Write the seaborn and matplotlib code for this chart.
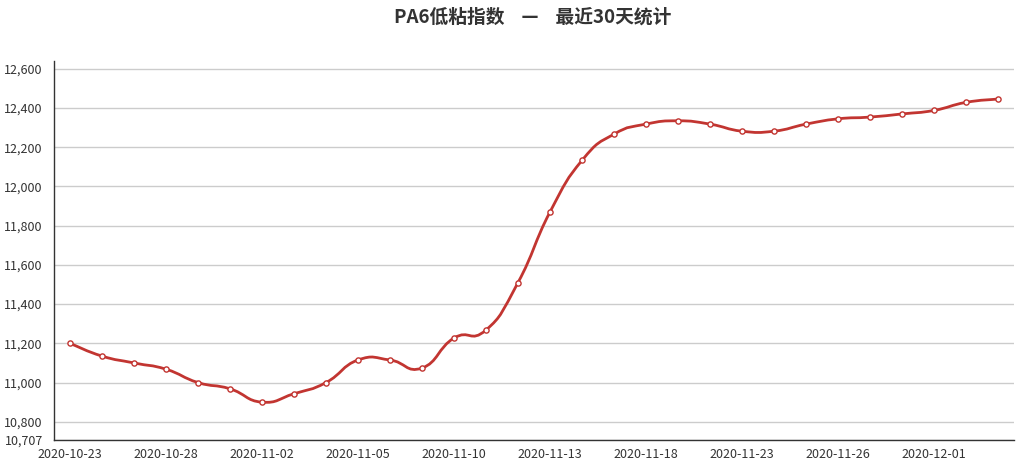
import numpy as np
import pandas as pd
import matplotlib.pyplot as plt
import seaborn as sns
from matplotlib.path import Path
from matplotlib.patches import PathPatch
from matplotlib.ticker import FuncFormatter

dates = ["2020-10-23", "2020-10-26", "2020-10-27", "2020-10-28", "2020-10-29", "2020-10-30",
         "2020-11-02", "2020-11-03", "2020-11-04", "2020-11-05", "2020-11-06", "2020-11-09",
         "2020-11-10", "2020-11-11", "2020-11-12", "2020-11-13", "2020-11-16", "2020-11-17",
         "2020-11-18", "2020-11-19", "2020-11-20", "2020-11-23", "2020-11-24", "2020-11-25",
         "2020-11-26", "2020-11-27", "2020-11-30", "2020-12-01", "2020-12-02", "2020-12-03"]
values = [11200, 11135, 11100, 11068, 11000, 10968, 10900, 10943, 11000, 11115,
          11115, 11074, 11227, 11268, 11510, 11870, 12133, 12267, 12318, 12335,
          12318, 12282, 12282, 12318, 12345, 12354, 12370, 12388, 12429, 12446]
y_min, y_max = 10707, 12640
y_ticks = [10707, 10800, 11000, 11200, 11400, 11600, 11800, 12000, 12200, 12400, 12600]
title = "PA6低粘指数    —    最近30天统计"

df = pd.DataFrame({"date": dates, "value": values})
df["idx"] = np.arange(len(df))

sns.set_style("white")
plt.rcParams['font.family'] = ['Noto Sans CJK SC', 'DejaVu Sans']

red = "#c23531"
fig = plt.figure(figsize=(10.2, 4.67), dpi=100)
ax = fig.add_axes([54 / 1020, 27 / 467, 960 / 1020, 379 / 467])

# smooth line (echarts-style bezier through the data points)
x = df["idx"].to_numpy(dtype=float)
y = df["value"].to_numpy(dtype=float)
ys = y / 5.09 / 32.0  # scale to roughly match pixel aspect for smoothing weights
verts = [(x[0], y[0])]
codes = [Path.MOVETO]
k = 0.25
for i in range(len(x) - 1):
    p0 = max(i - 1, 0)
    p3 = min(i + 2, len(x) - 1)
    c1 = (x[i] + (x[i + 1] - x[p0]) * k, y[i] + (y[i + 1] - y[p0]) * k)
    c2 = (x[i + 1] - (x[p3] - x[i]) * k, y[i + 1] - (y[p3] - y[i]) * k)
    verts += [c1, c2, (x[i + 1], y[i + 1])]
    codes += [Path.CURVE4] * 3
ax.add_patch(PathPatch(Path(verts, codes), facecolor="none", edgecolor=red, lw=2, zorder=3))

sns.scatterplot(data=df, x="idx", y="value", ax=ax, s=14, color="white",
                edgecolor=red, linewidth=1, zorder=4)

ax.set_xlim(-0.5, len(df) - 0.5)
ax.set_ylim(y_min, y_max)
ax.set_xticks(df["idx"][::3])
ax.set_xticklabels(df["date"][::3])
ax.set_xticks(np.arange(1.5, len(df) - 0.5, 3), minor=True)
ax.tick_params(axis="x", which="major", length=0, pad=6, labelsize=9, colors="#333333")
ax.tick_params(axis="x", which="minor", length=5, width=1, color="#333333")
ax.set_yticks(y_ticks)
ax.yaxis.set_major_formatter(FuncFormatter(lambda v, p: f"{int(v):,}"))
ax.tick_params(axis="y", length=5, width=1, color="#333333", labelsize=9, labelcolor="#333333", pad=3)
ax.grid(axis="y", color="#cccccc", lw=1)
ax.set_axisbelow(True)
for s in ["top", "right"]:
    ax.spines[s].set_visible(False)
for s in ["left", "bottom"]:
    ax.spines[s].set_color("#333333")
    ax.spines[s].set_linewidth(1)
ax.set_xlabel("")
ax.set_ylabel("")

fig.text(533 / 1020, 1 - 17 / 467, title, ha="center", va="center",
         fontsize=13.5, fontweight="bold", color="#333333")

fig.savefig("out.png", dpi=100)
